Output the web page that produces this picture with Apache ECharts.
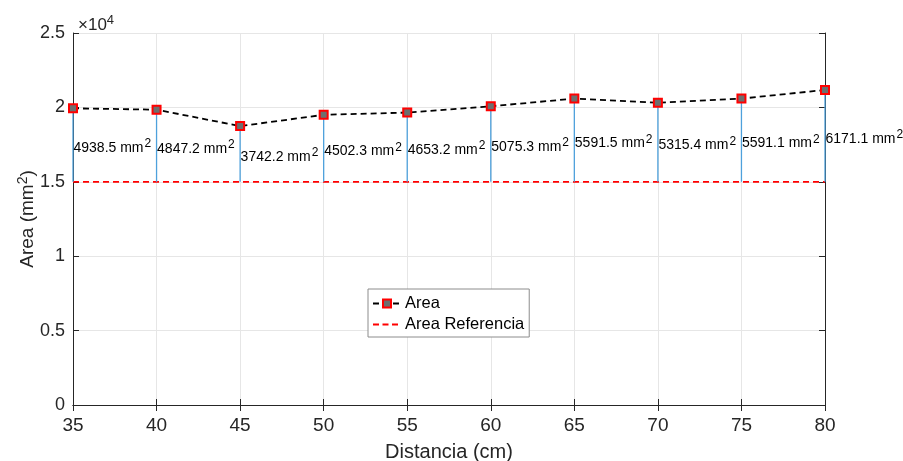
<!DOCTYPE html>
<html><head><meta charset="utf-8">
<script src="https://cdn.jsdelivr.net/npm/echarts@6/dist/echarts.min.js"></script>
<style>html,body{margin:0;padding:0;background:#fff}#c{width:903px;height:461px}</style>
</head><body><div id="c"></div>
<script>
const distances = [35, 40, 45, 50, 55, 60, 65, 70, 75, 80];
const areaValues = [19938.5, 19847.2, 18742.2, 19502.3, 19653.2, 20075.3, 20591.5, 20315.4, 20591.1, 21171.1];
const referenceArea = 15000;
const diffLabels = ['4938.5', '4847.2', '3742.2', '4502.3', '4653.2', '5075.3', '5591.5', '5315.4', '5591.1', '6171.1'];
const yTickLabels = ['0', '0.5', '1', '1.5', '2', '2.5'];

const chart = echarts.init(document.getElementById('c'));
const axisColor = '#262626';
const FONT = 'Liberation Sans, Arial, sans-serif';

const areaData = distances.map((d, i) => [d, areaValues[i]]);
const stemData = distances.map((d, i) => [d, areaValues[i], i]);

const dashIcon = 'path://M0,0L0.01,0Z M28,10L27.99,10Z M0,4.1h6v1.8h-6z M9.5,4.1h6v1.8h-6z M19,4.1h6v1.8h-6z';

chart.setOption({
  animation: false,
  textStyle: { fontFamily: FONT },
  grid: { left: 73, right: 78, top: 33, bottom: 56, containLabel: false, outerBoundsMode: 'none' },
  title: {
    text: '×10{s|4}',
    left: 73, top: 9,
    textStyle: { fontFamily: FONT, fontSize: 17, fontWeight: 'normal', color: axisColor,
      rich: { s: { fontSize: 13, verticalAlign: 'top', padding: [0, 0, 9, 0], color: axisColor, fontFamily: FONT } } }
  },
  legend: {
    data: [{ name: 'Area' }, { name: 'Area Referencia', icon: dashIcon }],
    orient: 'vertical',
    left: 368, top: 289,
    itemWidth: 28, itemHeight: 10, itemGap: 4,
    padding: [6, 5, 4, 4],
    borderColor: '#8c8c8c', borderWidth: 1, backgroundColor: '#fff',
    textStyle: { fontFamily: FONT, fontSize: 16.5, color: '#000', padding: [0, 0, 0, -1] }
  },
  xAxis: [{
    type: 'value', min: 35, max: 80, interval: 5,
    name: 'Distancia (cm)', nameLocation: 'middle', nameGap: 37, nameMoveOverlap: false,
    nameTextStyle: { fontFamily: FONT, fontSize: 20, color: axisColor },
    axisLine: { lineStyle: { color: axisColor, width: 1 } },
    axisTick: { inside: true, length: 6, lineStyle: { color: axisColor } },
    axisLabel: { fontFamily: FONT, fontSize: 19, color: axisColor, margin: 11 },
    splitLine: { show: true, lineStyle: { color: '#e6e6e6', width: 1 } }
  }, {
    type: 'value', min: 35, max: 80, interval: 5, position: 'top',
    axisLine: { show: true, lineStyle: { color: axisColor, width: 1 } },
    axisTick: { inside: true, length: 6, lineStyle: { color: axisColor } },
    axisLabel: { show: false }, splitLine: { show: false }
  }],
  yAxis: [{
    type: 'value', min: 0, max: 25000, interval: 5000,
    name: 'Area (mm{s|2})', nameLocation: 'middle', nameGap: 33, nameMoveOverlap: false,
    nameTextStyle: { fontFamily: FONT, fontSize: 19, color: axisColor,
      rich: { s: { fontSize: 14, verticalAlign: 'top', padding: [0, 0, 10, 0], color: axisColor, fontFamily: FONT } } },
    axisLine: { show: true, lineStyle: { color: axisColor, width: 1 } },
    axisTick: { show: true, inside: true, length: 6, lineStyle: { color: axisColor } },
    axisLabel: { fontFamily: FONT, fontSize: 18, color: axisColor, margin: 8,
      formatter: (v) => yTickLabels[Math.round(v / 5000)] },
    splitLine: { show: true, lineStyle: { color: '#e6e6e6', width: 1 } }
  }, {
    type: 'value', min: 0, max: 25000, interval: 5000, position: 'right',
    axisLine: { show: true, lineStyle: { color: axisColor, width: 1 } },
    axisTick: { show: true, inside: true, length: 6, lineStyle: { color: axisColor } },
    axisLabel: { show: false }, splitLine: { show: false }
  }],
  series: [
    {
      name: 'Area Referencia', type: 'line',
      data: [[35, referenceArea], [80, referenceArea]],
      symbol: 'none',
      lineStyle: { color: '#ff0000', width: 1.8, type: [6, 4] },
      itemStyle: { color: '#ff0000' },
      z: 3
    },
    {
      type: 'custom',
      data: stemData,
      renderItem: function (params, api) {
        const x = api.value(0), y = api.value(1), i = api.value(2);
        const p1 = api.coord([x, referenceArea]);
        const p2 = api.coord([x, y]);
        return {
          type: 'group',
          children: [
            { type: 'line', shape: { x1: p1[0], y1: p1[1], x2: p2[0], y2: p2[1] },
              style: { stroke: '#4ea1dc', lineWidth: 1.3 } },
            { type: 'text', x: p1[0] + 0.5, y: (p1[1] + p2[1]) / 2 + 3,
              style: { text: diffLabels[i] + ' mm{s|2}', fill: '#000', font: '14px ' + FONT,
                align: 'left', verticalAlign: 'middle',
                rich: { s: { fontSize: 12, verticalAlign: 'top', padding: [0, 0, 8, 1], fill: '#000', fontFamily: FONT } } } }
          ]
        };
      },
      z: 4
    },
    {
      name: 'Area', type: 'line',
      data: areaData,
      symbol: 'rect', symbolSize: 8,
      lineStyle: { color: '#000', width: 1.8, type: [6, 4] },
      itemStyle: { color: '#6e6e6e', borderColor: '#ff0000', borderWidth: 2 },
      z: 5
    }
  ]
});
</script></body></html>
